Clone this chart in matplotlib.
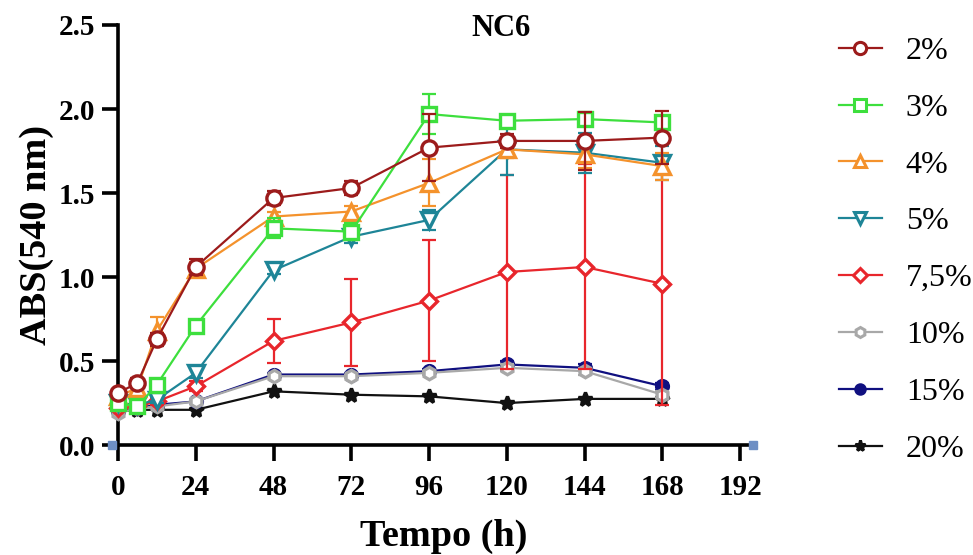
import matplotlib
matplotlib.use("Agg")
import matplotlib.pyplot as plt
from matplotlib.lines import Line2D

plt.rcParams['font.family'] = ['Liberation Serif', 'DejaVu Serif']

t = [0, 6, 12, 24, 48, 72, 96, 120, 144, 168]
labels = ["2%", "3%", "4%", "5%", "7,5%", "10%", "15%", "20%"]

abs_2 = [0.31, 0.37, 0.63, 1.06, 1.47, 1.53, 1.77, 1.81, 1.81, 1.83]
err_2 = [0.02, 0.03, 0.04, 0.05, 0.04, 0.04, 0.20, 0.04, 0.17, 0.16]
abs_3 = [0.25, 0.23, 0.36, 0.71, 1.29, 1.27, 1.97, 1.93, 1.94, 1.92]
err_3 = [0.02, 0.02, 0.03, 0.03, 0.06, 0.05, 0.12, 0.03, 0.03, 0.03]
abs_4 = [0.29, 0.34, 0.68, 1.05, 1.36, 1.39, 1.56, 1.76, 1.73, 1.66]
err_4 = [0.02, 0.03, 0.08, 0.04, 0.03, 0.03, 0.14, 0.05, 0.08, 0.08]
abs_5 = [0.25, 0.24, 0.27, 0.43, 1.04, 1.24, 1.34, 1.76, 1.74, 1.68]
err_5 = [0.01, 0.01, 0.02, 0.03, 0.02, 0.04, 0.06, 0.15, 0.12, 0.10]
abs_75 = [0.22, 0.23, 0.26, 0.35, 0.62, 0.73, 0.86, 1.03, 1.06, 0.96]
err_75 = [0.01, 0.01, 0.02, 0.03, 0.13, 0.26, 0.36, 0.58, 0.61, 0.72]
abs_10 = [0.19, 0.22, 0.23, 0.26, 0.41, 0.41, 0.43, 0.46, 0.44, 0.30]
err_10 = [0.01, 0.01, 0.01, 0.01, 0.01, 0.01, 0.01, 0.02, 0.02, 0.02]
abs_15 = [0.20, 0.22, 0.24, 0.26, 0.42, 0.42, 0.44, 0.48, 0.46, 0.35]
err_15 = [0.01, 0.01, 0.01, 0.01, 0.01, 0.01, 0.01, 0.02, 0.02, 0.02]
abs_20 = [0.20, 0.21, 0.21, 0.21, 0.32, 0.30, 0.29, 0.25, 0.275, 0.275]

xticks = [0, 24, 48, 72, 96, 120, 144, 168, 192]
yticks = [0.0, 0.5, 1.0, 1.5, 2.0, 2.5]

series = [
    (abs_2, err_2, '#9C1B1B', 'o', 'white', 11),
    (abs_3, err_3, '#3DDF3D', 's', 'white', 10),
    (abs_4, err_4, '#F4922C', '^', 'white', 11),
    (abs_5, err_5, '#1E8597', 'v', 'white', 11),
    (abs_75, err_75, '#E8262C', 'D', 'white', 8.5),
    (abs_10, err_10, '#A8A8A8', 'h', 'white', 9),
    (abs_15, err_15, '#101080', 'o', '#101080', 8.5),
    (abs_20, None, '#111111', '*', '#111111', 10),
]

fig = plt.figure(figsize=(9.73, 5.55), dpi=100)
ax = fig.add_axes([0.1146, 0.198, 0.774 - 0.1146, 0.955 - 0.198])

handles = []
n = len(series)
for i, (y, e, c, m, fc, ms) in enumerate(series):
    z = 3 + (n - i) * 0.2
    if e is not None:
        ax.errorbar(t, y, yerr=e, fmt='none', ecolor=c, elinewidth=1.6,
                    capsize=5, capthick=1.6, zorder=z)
    ax.plot(t, y, color=c, lw=1.6, marker=m, ms=ms, mfc=fc, mec=c,
            mew=2.4, zorder=z + 0.1, clip_on=False)
    handles.append(Line2D([], [], color=c, lw=1.6, marker=m, ms=ms * 0.8,
                          mfc=fc, mec=c, mew=2.2))

ax.set_xlim(-2, 196)
ax.set_ylim(0, 2.5)
ax.spines['left'].set_position(('data', 0))
ax.spines['top'].set_visible(False)
ax.spines['right'].set_visible(False)
for s in ('left', 'bottom'):
    ax.spines[s].set_linewidth(2.6)
ax.set_xticks(xticks)
ax.set_yticks(yticks)
ax.set_yticklabels([f"{v:.1f}" for v in yticks])
ax.tick_params(axis='both', direction='out', length=11.5, width=2.6,
               labelsize=21)
ax.tick_params(axis='x', pad=9)
ax.tick_params(axis='y', pad=5)
for lab in ax.get_xticklabels() + ax.get_yticklabels():
    lab.set_fontweight('bold')

# axis end markers
ax.plot([-2, 196], [0, 0], ls='none', marker='s', ms=6, color='#6E8FC4',
        clip_on=False, zorder=10)

fig.text(501 / 973, 1 - 28 / 555, "NC6", fontsize=22, fontweight='bold',
         ha='center', va='center')
ax.set_xlabel("Tempo (h)", fontsize=27.5, fontweight='bold')
ax.xaxis.set_label_coords(0.518, -0.175)
ax.set_ylabel("ABS(540 nm)", fontsize=27.5, fontweight='bold', labelpad=3)

fig.legend(handles, labels, loc='upper left', bbox_to_anchor=(0.8325, 0.986),
           frameon=False, fontsize=23, handlelength=1.35, labelspacing=0.86,
           handletextpad=0.75)

fig.savefig("out.png", dpi=100)
